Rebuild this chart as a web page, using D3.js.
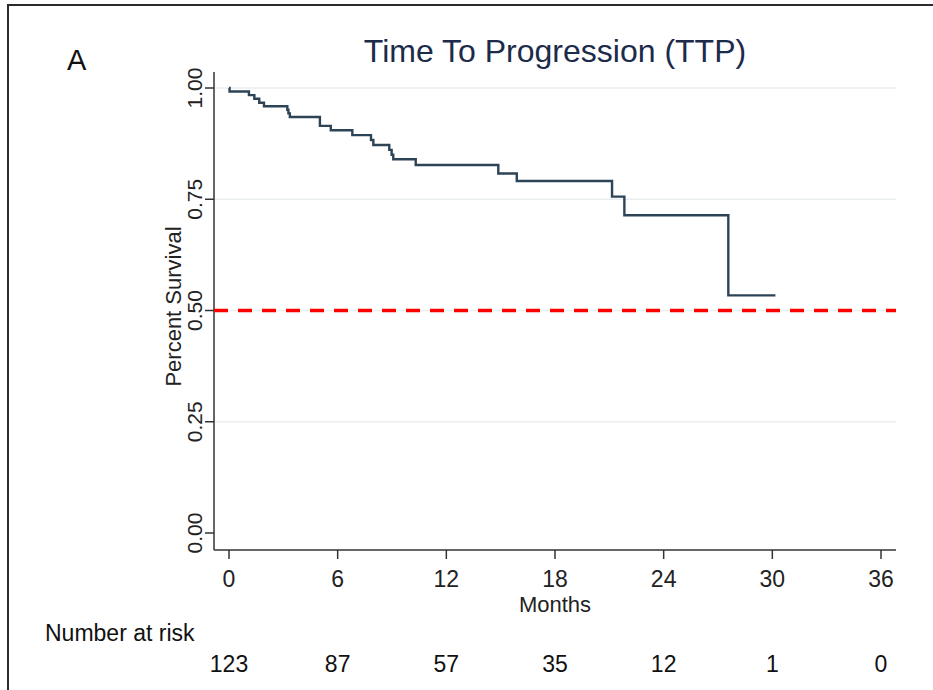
<!DOCTYPE html>
<html>
<head>
<meta charset="utf-8">
<script src="https://cdn.jsdelivr.net/npm/d3@7"></script>
<style>
  body { margin: 0; background: #fff; }
  text { font-family: "Liberation Sans", Arial, sans-serif; }
</style>
</head>
<body>
<div id="chart"></div>
<script>
// Kaplan-Meier steps: month of drop, survival after it
let stepMonths = [0, 0.03, 1.10, 1.40, 1.67, 1.93, 3.22, 3.28, 3.36, 5.02, 5.62, 6.81, 7.84, 7.97, 8.85, 8.98, 9.07, 10.31, 14.87, 15.89, 21.15, 21.83, 27.57, 30.17];
let stepSurvival = [1.0, 0.992, 0.984, 0.976, 0.967, 0.959, 0.951, 0.943, 0.935, 0.915, 0.905, 0.894, 0.883, 0.872, 0.861, 0.850, 0.840, 0.827, 0.808, 0.791, 0.756, 0.714, 0.534, 0.534];

let xTicks = [0, 6, 12, 18, 24, 30, 36];
let yTicks = [0, 0.25, 0.5, 0.75, 1];
let gridTicks = [0.25, 0.5, 0.75, 1];
let atRisk = [123, 87, 57, 35, 12, 1, 0];

let width = 933, height = 690;

let svg = d3.select('#chart').append('svg')
    .attr('width', width)
    .attr('height', height);

// frame (only top and left are visible in the crop)
svg.append('path')
    .attr('d', 'M8,690 L8,5 L933,5')
    .attr('fill', 'none')
    .attr('stroke', '#2b2b2b')
    .attr('stroke-width', 2);

let x = d3.scaleLinear().domain([0, 36]).range([229, 881]);
let y = d3.scaleLinear().domain([0, 1]).range([533, 88]);

let axisLeft = 214, axisBottom = 550, plotRight = 896;

// gridlines
svg.append('g').selectAll('line')
    .data(gridTicks)
    .enter().append('line')
    .attr('x1', axisLeft).attr('x2', plotRight)
    .attr('y1', d => y(d)).attr('y2', d => y(d))
    .attr('stroke', '#e9eef1')
    .attr('stroke-width', 1.5);

// y axis
let gy = svg.append('g');
gy.append('line')
    .attr('x1', axisLeft).attr('x2', axisLeft)
    .attr('y1', 72).attr('y2', axisBottom)
    .attr('stroke', '#333').attr('stroke-width', 1.5);
gy.selectAll('.tick')
    .data(yTicks)
    .enter().append('line')
    .attr('x1', axisLeft - 9).attr('x2', axisLeft)
    .attr('y1', d => y(d)).attr('y2', d => y(d))
    .attr('stroke', '#333').attr('stroke-width', 1.5);
gy.selectAll('text')
    .data(yTicks)
    .enter().append('text')
    .attr('transform', d => 'translate(202,' + y(d) + ') rotate(-90)')
    .attr('text-anchor', 'middle')
    .attr('font-size', 21)
    .attr('fill', '#222')
    .text(d => d3.format('.2f')(d));

svg.append('text')
    .attr('transform', 'translate(181,' + (y(0.5) - 4) + ') rotate(-90)')
    .attr('text-anchor', 'middle')
    .attr('font-size', 22)
    .attr('fill', '#222')
    .text('Percent Survival');

// x axis
let gx = svg.append('g');
gx.append('line')
    .attr('x1', axisLeft).attr('x2', plotRight)
    .attr('y1', axisBottom).attr('y2', axisBottom)
    .attr('stroke', '#333').attr('stroke-width', 1.5);
gx.selectAll('.tick')
    .data(xTicks)
    .enter().append('line')
    .attr('x1', d => x(d)).attr('x2', d => x(d))
    .attr('y1', axisBottom).attr('y2', axisBottom + 9)
    .attr('stroke', '#333').attr('stroke-width', 1.5);
gx.selectAll('text')
    .data(xTicks)
    .enter().append('text')
    .attr('x', d => x(d))
    .attr('y', 587)
    .attr('text-anchor', 'middle')
    .attr('font-size', 23)
    .attr('fill', '#222')
    .text(d => d);

svg.append('text')
    .attr('x', (axisLeft + plotRight) / 2)
    .attr('y', 612)
    .attr('text-anchor', 'middle')
    .attr('font-size', 22)
    .attr('fill', '#222')
    .text('Months');

// number at risk table
svg.append('text')
    .attr('x', 45)
    .attr('y', 641)
    .attr('font-size', 23)
    .attr('fill', '#111')
    .text('Number at risk');

svg.append('g').selectAll('text')
    .data(atRisk)
    .enter().append('text')
    .attr('x', (d, i) => x(xTicks[i]))
    .attr('y', 672)
    .attr('text-anchor', 'middle')
    .attr('font-size', 23)
    .attr('fill', '#111')
    .text(d => d);

// median reference line
svg.append('line')
    .attr('x1', axisLeft).attr('x2', plotRight)
    .attr('y1', y(0.5)).attr('y2', y(0.5))
    .attr('stroke', '#ff0000')
    .attr('stroke-width', 3.5)
    .attr('stroke-dasharray', '14,10');

// survival curve
let steps = stepMonths.map((m, i) => [m, stepSurvival[i]]);
let line = d3.line()
    .x(d => x(d[0]))
    .y(d => y(d[1]))
    .curve(d3.curveStepAfter);

svg.append('path')
    .datum(steps)
    .attr('d', line)
    .attr('fill', 'none')
    .attr('stroke', '#2d4356')
    .attr('stroke-width', 2.4);

// title and panel letter
svg.append('text')
    .attr('x', (axisLeft + plotRight) / 2)
    .attr('y', 62)
    .attr('text-anchor', 'middle')
    .attr('font-size', 32)
    .attr('fill', '#1c2b4a')
    .text('Time To Progression (TTP)');

svg.append('text')
    .attr('x', 67)
    .attr('y', 70)
    .attr('font-size', 29)
    .attr('fill', '#111')
    .text('A');
</script>
</body>
</html>
